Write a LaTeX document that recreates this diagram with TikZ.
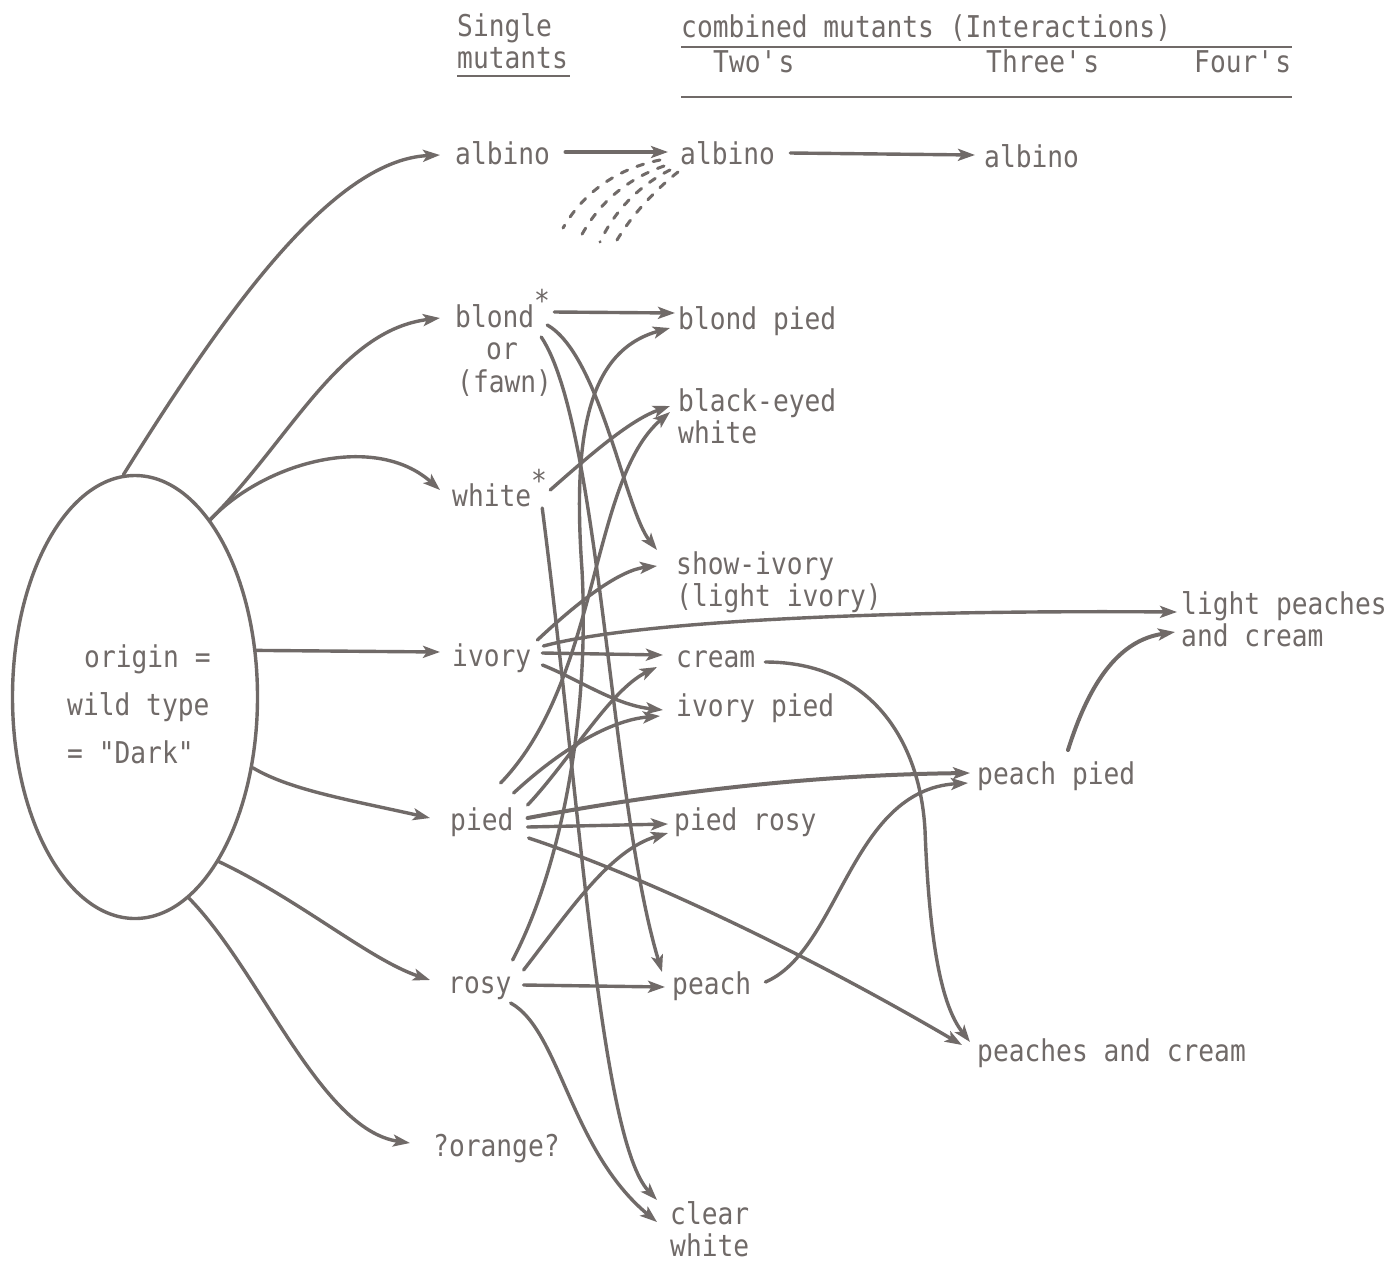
\documentclass[tikz,border=0pt]{standalone}
\usepackage{fontspec}
\usetikzlibrary{arrows.meta,calc,shapes.geometric}
\newfontfamily\tw[FakeStretch=0.875]{DejaVu Sans Mono}
\definecolor{ink}{RGB}{112,106,104}
\tikzset{
  lbl/.style={inner sep=0pt, anchor=base west, font=\tw\fontsize{30}{32}\selectfont, text=ink, align=left},
  con/.style={draw=ink, line width=3.4pt, line cap=round, -{Stealth[length=17pt,width=12pt,inset=4pt]}},
  rule/.style={draw=ink, line width=2pt},
  dsh/.style={draw=ink, line width=3pt, dash pattern=on 7pt off 10pt, line cap=round},
}
\newcommand{\mystar}[1]{\raisebox{#1}{*}}
\begin{document}
\begin{tikzpicture}[x=1pt,y=-1pt]
\useasboundingbox (0,0) rectangle (1392,1262);
\fill[white] (0,0) rectangle (1392,1262);

% header
\node[lbl] (hsingle) at (457,36) {Single};
\node[lbl] (hmut) at (457,68) {mutants};
\node[lbl] (hcomb) at (681,37) {combined mutants (Interactions)};
\node[lbl] (htwo) at (713,72) {Two\textquotesingle s};
\node[lbl] (hthree) at (986,72) {Three\textquotesingle s};
\node[lbl] (hfour) at (1194,72) {Four\textquotesingle s};
\draw[rule] ($(hmut.base west)+(0,8)$) -- ($(hmut.base east)+(2,8)$);
\draw[rule] ($(hcomb.base west)+(0,10)$) -- ($(hfour.base east)+(1,-25)$);
\draw[rule] ($(hcomb.base west)+(0,60)$) -- ($(hfour.base east)+(1,25)$);

% origin
\node[ellipse, draw=ink, line width=3.4pt, minimum width=245pt, minimum height=443pt, inner sep=0pt] (origin) at (135,697) {};
\node[lbl, font=\tw\fontsize{30}{48}\selectfont] (origtxt) at (67,763) {\hspace*{17pt}origin =\\wild type\\= "Dark"};

% single mutants
\node[lbl] (alb1) at (455,164) {albino};
\node[lbl] (blond) at (455,327) {blond\mystar{16pt}};
\node[lbl] (or) at (486,359) {or};
\node[lbl] (fawn) at (457,392) {(fawn)};
\node[lbl] (white) at (452,506) {white\mystar{15pt}};
\node[lbl] (ivory) at (452,666) {ivory};
\node[lbl] (pied) at (450,830) {pied};
\node[lbl] (rosy) at (448,993) {rosy};
\node[lbl] (orange) at (433,1156) {?orange?};

% two's (multi-line nodes: base = last line)
\node[lbl] (alb2) at (680,164) {albino};
\node[lbl] (bpied) at (678,329) {blond pied};
\node[lbl] (bew) at (678,443) {black-eyed\\white};
\node[lbl] (shiv) at (676,606) {show-ivory\\(light ivory)};
\node[lbl] (cream) at (676,667) {cream};
\node[lbl] (ivpied) at (676,716) {ivory pied};
\node[lbl] (prosy) at (674,830) {pied rosy};
\node[lbl] (peach) at (672,994) {peach};
\node[lbl] (clw) at (670,1256) {clear\\white};

% three's, four's
\node[lbl] (alb3) at (984,167) {albino};
\node[lbl] (ppied) at (977,784) {peach pied};
\node[lbl] (pac) at (977,1061) {peaches and cream};
\node[lbl] (lpac) at (1181,646) {light peaches\\and cream};

% origin -> single mutants
\draw[con] (origin.93) .. controls (220,320) and (330,160) .. ($(alb1.base west)+(-15,-9)$);
\draw[con] (origin.67) .. controls (290,440) and (340,330) .. ($(blond.base west)+(-15,-9)$);
\draw[con] (origin.67) .. controls (265,462) and (375,432) .. ($(white.base west)+(-12,-16)$);
\draw[con] (origin.21) -- ($(ivory.base west)+(-12,-14)$);
\draw[con] (origin.-31.5) .. controls (290,790) and (350,800) .. ($(pied.base west)+(-20,-12)$);
\draw[con] (origin.-63.6) .. controls (300,900) and (370,960) .. ($(rosy.base west)+(-18,-13)$);
\draw[con] (origin.-75.5) .. controls (260,970) and (320,1130) .. ($(orange.base west)+(-23,-13)$);

% albino line
\draw[con] ($(alb1.base east)+(15,-12)$) -- ($(alb2.base west)+(-12,-12)$);
\draw[con] ($(alb2.base east)+(15,-11)$) -- ($(alb3.base west)+(-9,-12)$);
\draw[dsh] ($(alb2.base west)+(-20,-4)$) .. controls (620,168) and (585,190) .. ($(alb2.base west)+(-117,64)$);
\draw[dsh] ($(alb2.base west)+(-16,2)$) .. controls (630,178) and (600,200) .. ($(alb2.base west)+(-100,74)$);
\draw[dsh] ($(alb2.base west)+(-10,6)$) .. controls (640,185) and (615,210) .. ($(alb2.base west)+(-80,78)$);
\draw[dsh] ($(alb2.base west)+(-2,8)$) .. controls (655,190) and (632,215) .. ($(alb2.base west)+(-63,76)$);

% blond
\draw[con] ($(blond.base east)+(4,-15)$) -- ($(bpied.base west)+(-3,-16)$);
\draw[con] ($(blond.base east)+(-3,-2)$) .. controls (600,355) and (625,510) .. ($(shiv.base west)+(-19,-56)$);
\draw[con] ($(blond.base east)+(-9,10)$) .. controls (600,425) and (610,800) .. ($(peach.base west)+(-10,-22)$);

% white
\draw[con] ($(white.base east)+(3,-16)$) .. controls (590,455) and (630,420) .. ($(bew.base west)+(-8,-37)$);
\draw[con] ($(white.base east)+(-5,2)$) .. controls (580,800) and (600,1140) .. ($(clw.base west)+(-13,-56)$);

% ivory
\draw[con] ($(ivory.base east)+(6,-26)$) .. controls (580,600) and (620,570) .. ($(shiv.base west)+(-19,-40)$);
\draw[con] ($(ivory.base east)+(12,-20)$) .. controls (640,620) and (900,610) .. ($(lpac.base west)+(-4,-34)$);
\draw[con] ($(ivory.base east)+(11,-13)$) -- ($(cream.base west)+(-13,-12)$);
\draw[con] ($(ivory.base east)+(11,-1)$) .. controls (580,680) and (615,705) .. ($(ivpied.base west)+(-13,-6)$);

% cream
\draw[con] ($(cream.base east)+(10,-5)$) .. controls (870,662) and (920,740) .. (925,830) .. controls (930,960) and (945,1010) .. ($(pac.base west)+(-7,-19)$);

% pied
\draw[con, line width=4pt] ($(pied.base east)+(14,-12)$) .. controls (650,795) and (800,775) .. ($(ppied.base west)+(-7,-11)$);
\draw[con] ($(pied.base east)+(14,-3)$) -- ($(prosy.base west)+(-6,-6)$);
\draw[con] ($(pied.base east)+(15,8)$) .. controls (640,875) and (800,950) .. ($(pac.base west)+(-15,-16)$);
\draw[con] ($(pied.base east)+(-13,-47)$) .. controls (600,680) and (590,480) .. ($(bew.base west)+(-8,-31)$);
\draw[con] ($(pied.base east)+(0,-37)$) .. controls (560,750) and (610,720) .. ($(ivpied.base west)+(-16,0)$);
\draw[con] ($(pied.base east)+(14,-25)$) .. controls (570,760) and (610,690) .. ($(cream.base west)+(-19,0)$);

% rosy
\draw[con] ($(rosy.base east)+(1,-33)$) .. controls (560,870) and (590,720) .. (582,570) .. controls (572,430) and (590,350) .. ($(bpied.base west)+(-8,-1)$);
\draw[con] ($(rosy.base east)+(12,-23)$) .. controls (570,910) and (610,850) .. ($(prosy.base west)+(-6,3)$);
\draw[con] ($(rosy.base east)+(12,-8)$) -- ($(peach.base west)+(-7,-7)$);
\draw[con] ($(rosy.base east)+(-1,10)$) .. controls (560,1030) and (570,1150) .. ($(clw.base west)+(-13,-34)$);

% peach, peach pied
\draw[con] ($(peach.base east)+(14,-12)$) .. controls (840,950) and (850,790) .. ($(ppied.base west)+(-9,-1)$);
\draw[con, line width=4pt] ($(ppied.base west)+(91,-34)$) .. controls (1090,680) and (1120,640) .. ($(lpac.base west)+(-6,-14)$);
\end{tikzpicture}
\end{document}
